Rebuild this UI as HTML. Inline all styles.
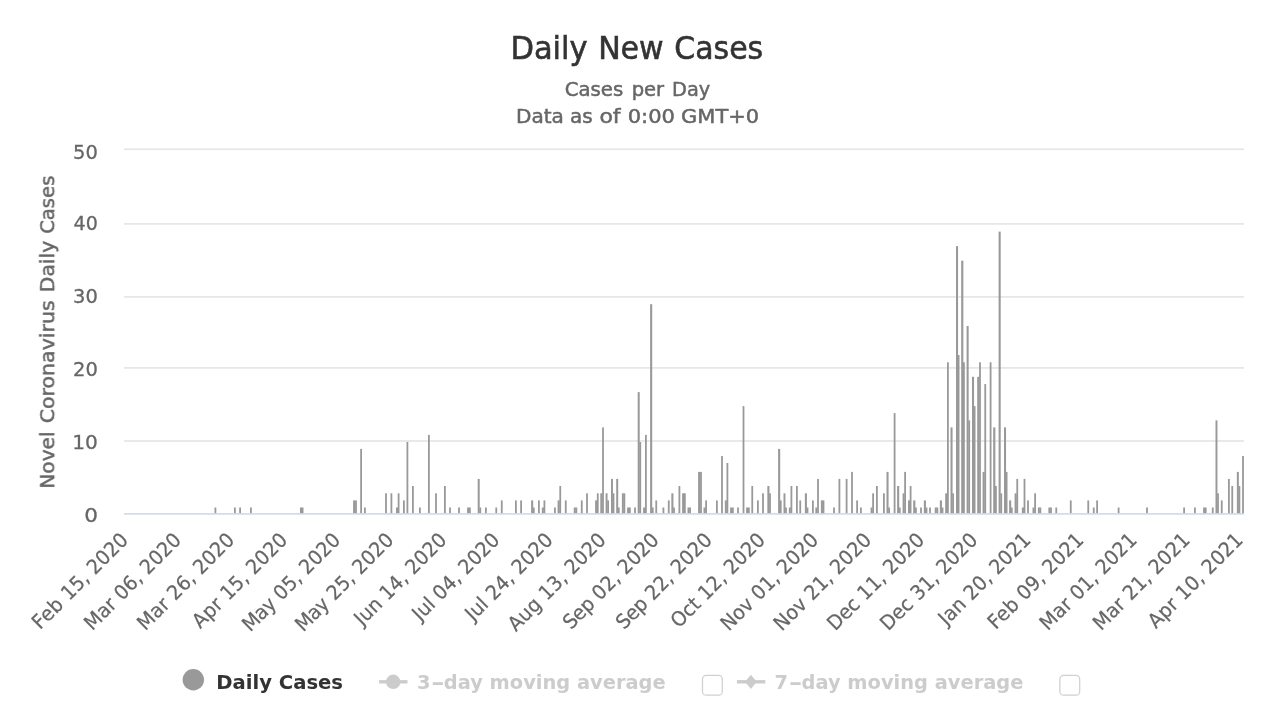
<!DOCTYPE html>
<html lang="en"><head><meta charset="utf-8"><title>Daily New Cases</title>
<style>html,body{margin:0;padding:0;background:#fff}svg{display:block}text{font-family:"DejaVu Sans","Liberation Sans",sans-serif}.tx{filter:grayscale(1)}</style></head><body>
<svg width="1280" height="720" viewBox="0 0 1280 720">
<rect width="1280" height="720" fill="#ffffff"/>
<g fill="#e6e6e6">
<rect x="124" y="148.40" width="1120" height="1.7"/>
<rect x="124" y="223.05" width="1120" height="1.7"/>
<rect x="124" y="296.05" width="1120" height="1.7"/>
<rect x="124" y="367.05" width="1120" height="1.7"/>
<rect x="124" y="440.15" width="1120" height="1.7"/>
</g>
<g fill="#999999">
<rect x="214.50" y="507.50" width="1.80" height="6.10"/>
<rect x="234.00" y="507.50" width="1.80" height="6.10"/>
<rect x="239.20" y="507.50" width="1.80" height="6.10"/>
<rect x="250.00" y="507.50" width="1.80" height="6.10"/>
<rect x="300.00" y="507.50" width="2.05" height="6.10"/>
<rect x="301.70" y="507.50" width="1.80" height="6.10"/>
<rect x="353.10" y="500.40" width="2.35" height="13.20"/>
<rect x="355.10" y="500.40" width="1.80" height="13.20"/>
<rect x="360.20" y="448.90" width="1.80" height="64.70"/>
<rect x="364.00" y="507.50" width="1.80" height="6.10"/>
<rect x="385.10" y="493.30" width="1.80" height="20.30"/>
<rect x="390.50" y="493.30" width="1.80" height="20.30"/>
<rect x="396.00" y="507.50" width="2.05" height="6.10"/>
<rect x="397.70" y="493.30" width="1.80" height="20.30"/>
<rect x="403.00" y="500.40" width="1.80" height="13.20"/>
<rect x="406.50" y="442.00" width="1.80" height="71.60"/>
<rect x="412.00" y="486.00" width="1.80" height="27.60"/>
<rect x="419.00" y="507.50" width="1.80" height="6.10"/>
<rect x="428.00" y="434.90" width="1.80" height="78.70"/>
<rect x="435.10" y="493.30" width="1.80" height="20.30"/>
<rect x="444.00" y="486.00" width="1.80" height="27.60"/>
<rect x="449.10" y="507.50" width="1.80" height="6.10"/>
<rect x="458.10" y="507.50" width="1.80" height="6.10"/>
<rect x="467.10" y="507.50" width="2.20" height="6.10"/>
<rect x="468.95" y="507.50" width="1.80" height="6.10"/>
<rect x="477.70" y="478.90" width="2.00" height="34.70"/>
<rect x="479.35" y="507.50" width="1.80" height="6.10"/>
<rect x="485.00" y="507.50" width="1.80" height="6.10"/>
<rect x="495.35" y="507.50" width="1.80" height="6.10"/>
<rect x="500.85" y="500.40" width="1.80" height="13.20"/>
<rect x="515.00" y="500.40" width="1.80" height="13.20"/>
<rect x="520.20" y="500.40" width="1.80" height="13.20"/>
<rect x="531.10" y="500.40" width="2.10" height="13.20"/>
<rect x="532.85" y="507.50" width="1.80" height="6.10"/>
<rect x="538.00" y="500.40" width="1.80" height="13.20"/>
<rect x="541.85" y="507.50" width="2.00" height="6.10"/>
<rect x="543.50" y="500.40" width="1.80" height="13.20"/>
<rect x="554.00" y="507.50" width="1.80" height="6.10"/>
<rect x="557.60" y="500.40" width="2.10" height="13.20"/>
<rect x="559.35" y="486.00" width="1.80" height="27.60"/>
<rect x="564.85" y="500.40" width="1.80" height="13.20"/>
<rect x="573.75" y="507.50" width="2.05" height="6.10"/>
<rect x="575.45" y="507.50" width="1.80" height="6.10"/>
<rect x="580.85" y="500.40" width="1.80" height="13.20"/>
<rect x="586.10" y="493.30" width="1.80" height="20.30"/>
<rect x="595.10" y="500.40" width="2.10" height="13.20"/>
<rect x="596.85" y="493.30" width="1.80" height="20.30"/>
<rect x="600.30" y="493.30" width="2.15" height="20.30"/>
<rect x="602.10" y="427.40" width="1.80" height="86.20"/>
<rect x="605.60" y="493.30" width="1.95" height="20.30"/>
<rect x="607.20" y="500.40" width="1.80" height="13.20"/>
<rect x="611.00" y="478.90" width="1.95" height="34.70"/>
<rect x="612.60" y="493.30" width="1.80" height="20.30"/>
<rect x="616.20" y="478.90" width="2.00" height="34.70"/>
<rect x="617.85" y="507.50" width="1.80" height="6.10"/>
<rect x="621.90" y="493.30" width="1.90" height="20.30"/>
<rect x="623.45" y="493.30" width="1.80" height="20.30"/>
<rect x="627.10" y="507.50" width="2.20" height="6.10"/>
<rect x="628.95" y="507.50" width="1.80" height="6.10"/>
<rect x="634.10" y="507.50" width="1.80" height="6.10"/>
<rect x="637.70" y="392.10" width="2.00" height="121.50"/>
<rect x="639.35" y="442.00" width="1.80" height="71.60"/>
<rect x="643.10" y="507.50" width="2.25" height="6.10"/>
<rect x="645.00" y="434.90" width="1.80" height="78.70"/>
<rect x="650.10" y="304.21" width="2.10" height="209.39"/>
<rect x="651.85" y="507.50" width="1.80" height="6.10"/>
<rect x="655.35" y="500.40" width="1.80" height="13.20"/>
<rect x="662.50" y="507.50" width="1.80" height="6.10"/>
<rect x="667.85" y="500.40" width="1.80" height="13.20"/>
<rect x="671.35" y="493.30" width="2.10" height="20.30"/>
<rect x="673.10" y="507.50" width="1.80" height="6.10"/>
<rect x="678.50" y="486.00" width="1.80" height="27.60"/>
<rect x="682.10" y="493.30" width="2.20" height="20.30"/>
<rect x="683.95" y="493.30" width="1.80" height="20.30"/>
<rect x="687.50" y="507.50" width="2.05" height="6.10"/>
<rect x="689.20" y="507.50" width="1.80" height="6.10"/>
<rect x="698.10" y="471.90" width="2.35" height="41.70"/>
<rect x="700.10" y="471.90" width="1.80" height="41.70"/>
<rect x="703.50" y="507.50" width="2.05" height="6.10"/>
<rect x="705.20" y="500.40" width="1.80" height="13.20"/>
<rect x="716.00" y="500.40" width="1.80" height="13.20"/>
<rect x="721.10" y="456.00" width="1.80" height="57.60"/>
<rect x="724.85" y="500.40" width="2.00" height="13.20"/>
<rect x="726.50" y="463.00" width="1.80" height="50.60"/>
<rect x="730.10" y="507.50" width="2.20" height="6.10"/>
<rect x="731.95" y="507.50" width="1.80" height="6.10"/>
<rect x="737.10" y="507.50" width="1.80" height="6.10"/>
<rect x="742.60" y="406.10" width="1.80" height="107.50"/>
<rect x="746.10" y="507.50" width="2.20" height="6.10"/>
<rect x="747.95" y="507.50" width="1.80" height="6.10"/>
<rect x="751.35" y="486.00" width="1.80" height="27.60"/>
<rect x="757.00" y="500.40" width="1.80" height="13.20"/>
<rect x="762.10" y="493.30" width="1.80" height="20.30"/>
<rect x="767.35" y="486.00" width="2.10" height="27.60"/>
<rect x="769.10" y="493.30" width="1.80" height="20.30"/>
<rect x="778.10" y="448.90" width="2.10" height="64.70"/>
<rect x="779.85" y="500.40" width="1.80" height="13.20"/>
<rect x="783.50" y="493.30" width="1.95" height="20.30"/>
<rect x="785.10" y="507.50" width="1.80" height="6.10"/>
<rect x="788.85" y="507.50" width="2.00" height="6.10"/>
<rect x="790.50" y="486.00" width="1.80" height="27.60"/>
<rect x="796.00" y="486.00" width="1.80" height="27.60"/>
<rect x="799.35" y="500.40" width="1.80" height="13.20"/>
<rect x="804.85" y="493.30" width="2.10" height="20.30"/>
<rect x="806.60" y="507.50" width="1.80" height="6.10"/>
<rect x="812.00" y="500.40" width="1.80" height="13.20"/>
<rect x="815.35" y="507.50" width="2.10" height="6.10"/>
<rect x="817.10" y="478.90" width="1.80" height="34.70"/>
<rect x="820.90" y="500.40" width="2.05" height="13.20"/>
<rect x="822.60" y="500.40" width="1.80" height="13.20"/>
<rect x="833.10" y="507.50" width="1.80" height="6.10"/>
<rect x="838.50" y="478.90" width="1.80" height="34.70"/>
<rect x="845.70" y="478.90" width="1.80" height="34.70"/>
<rect x="851.10" y="471.90" width="1.80" height="41.70"/>
<rect x="856.20" y="500.40" width="1.80" height="13.20"/>
<rect x="860.00" y="507.50" width="1.80" height="6.10"/>
<rect x="870.60" y="507.50" width="1.95" height="6.10"/>
<rect x="872.20" y="493.30" width="1.80" height="20.30"/>
<rect x="876.00" y="486.00" width="1.80" height="27.60"/>
<rect x="883.00" y="493.30" width="1.80" height="20.30"/>
<rect x="886.50" y="471.90" width="2.05" height="41.70"/>
<rect x="888.20" y="507.50" width="1.80" height="6.10"/>
<rect x="893.70" y="413.10" width="1.80" height="100.50"/>
<rect x="897.10" y="486.00" width="2.10" height="27.60"/>
<rect x="898.85" y="507.50" width="1.80" height="6.10"/>
<rect x="902.60" y="493.30" width="1.95" height="20.30"/>
<rect x="904.20" y="471.90" width="1.80" height="41.70"/>
<rect x="908.00" y="500.40" width="2.05" height="13.20"/>
<rect x="909.70" y="486.00" width="1.80" height="27.60"/>
<rect x="913.20" y="500.40" width="2.15" height="13.20"/>
<rect x="915.00" y="507.50" width="1.80" height="6.10"/>
<rect x="920.10" y="507.50" width="1.80" height="6.10"/>
<rect x="923.85" y="500.40" width="2.10" height="13.20"/>
<rect x="925.60" y="507.50" width="1.80" height="6.10"/>
<rect x="929.10" y="507.50" width="1.80" height="6.10"/>
<rect x="934.75" y="507.50" width="2.05" height="6.10"/>
<rect x="936.45" y="507.50" width="1.80" height="6.10"/>
<rect x="939.85" y="500.40" width="2.10" height="13.20"/>
<rect x="941.60" y="507.50" width="1.80" height="6.10"/>
<rect x="945.20" y="493.30" width="2.15" height="20.30"/>
<rect x="947.00" y="362.29" width="1.80" height="151.31"/>
<rect x="950.50" y="427.40" width="2.05" height="86.20"/>
<rect x="952.20" y="493.30" width="1.80" height="20.30"/>
<rect x="956.00" y="246.13" width="2.05" height="267.47"/>
<rect x="957.70" y="355.03" width="1.80" height="158.57"/>
<rect x="961.20" y="260.65" width="2.15" height="252.95"/>
<rect x="963.00" y="362.29" width="1.80" height="151.31"/>
<rect x="966.60" y="325.99" width="2.05" height="187.61"/>
<rect x="968.30" y="420.37" width="1.80" height="93.23"/>
<rect x="972.00" y="376.81" width="2.05" height="136.79"/>
<rect x="973.70" y="406.10" width="1.80" height="107.50"/>
<rect x="977.20" y="376.81" width="2.25" height="136.79"/>
<rect x="979.10" y="362.29" width="1.80" height="151.31"/>
<rect x="982.60" y="471.90" width="2.10" height="41.70"/>
<rect x="984.35" y="384.07" width="1.80" height="129.53"/>
<rect x="989.70" y="362.29" width="1.80" height="151.31"/>
<rect x="993.20" y="427.40" width="2.15" height="86.20"/>
<rect x="995.00" y="486.00" width="1.80" height="27.60"/>
<rect x="998.60" y="231.61" width="2.10" height="281.99"/>
<rect x="1000.35" y="493.30" width="1.80" height="20.30"/>
<rect x="1004.00" y="427.40" width="2.05" height="86.20"/>
<rect x="1005.70" y="471.90" width="1.80" height="41.70"/>
<rect x="1009.10" y="500.40" width="2.10" height="13.20"/>
<rect x="1010.85" y="507.50" width="1.80" height="6.10"/>
<rect x="1014.60" y="493.30" width="2.10" height="20.30"/>
<rect x="1016.35" y="478.90" width="1.80" height="34.70"/>
<rect x="1021.85" y="507.50" width="2.10" height="6.10"/>
<rect x="1023.60" y="478.90" width="1.80" height="34.70"/>
<rect x="1027.10" y="500.40" width="1.80" height="13.20"/>
<rect x="1032.50" y="507.50" width="2.05" height="6.10"/>
<rect x="1034.20" y="493.30" width="1.80" height="20.30"/>
<rect x="1037.90" y="507.50" width="1.90" height="6.10"/>
<rect x="1039.45" y="507.50" width="1.80" height="6.10"/>
<rect x="1048.40" y="507.50" width="2.05" height="6.10"/>
<rect x="1050.10" y="507.50" width="1.80" height="6.10"/>
<rect x="1055.35" y="507.50" width="1.80" height="6.10"/>
<rect x="1069.85" y="500.40" width="1.80" height="13.20"/>
<rect x="1087.35" y="500.40" width="1.80" height="13.20"/>
<rect x="1092.85" y="507.50" width="1.80" height="6.10"/>
<rect x="1096.20" y="500.40" width="1.80" height="13.20"/>
<rect x="1117.70" y="507.50" width="1.80" height="6.10"/>
<rect x="1146.10" y="507.50" width="1.80" height="6.10"/>
<rect x="1183.20" y="507.50" width="1.80" height="6.10"/>
<rect x="1194.00" y="507.50" width="1.80" height="6.10"/>
<rect x="1203.10" y="507.50" width="2.05" height="6.10"/>
<rect x="1204.80" y="507.50" width="1.80" height="6.10"/>
<rect x="1211.85" y="507.50" width="1.80" height="6.10"/>
<rect x="1215.50" y="420.37" width="1.95" height="93.23"/>
<rect x="1217.10" y="493.30" width="1.80" height="20.30"/>
<rect x="1220.85" y="500.40" width="1.80" height="13.20"/>
<rect x="1228.00" y="478.90" width="1.80" height="34.70"/>
<rect x="1231.35" y="486.00" width="1.80" height="27.60"/>
<rect x="1236.85" y="471.90" width="2.00" height="41.70"/>
<rect x="1238.50" y="486.00" width="1.80" height="27.60"/>
<rect x="1242.10" y="456.00" width="1.80" height="57.60"/>
</g>
<rect x="124" y="513.15" width="1120" height="1.5" fill="#ccd6eb"/>
<g class="tx">
<text y="59.45" font-size="32.2" font-weight="normal" fill="#333333" stroke="#333333" stroke-width="0.6"><tspan x="510.39" textLength="77.26" lengthAdjust="spacingAndGlyphs">Daily</tspan> <tspan x="598.13" textLength="65.59" lengthAdjust="spacingAndGlyphs">New</tspan> <tspan x="674.30" textLength="88.93" lengthAdjust="spacingAndGlyphs">Cases</tspan></text>
<text y="96.40" font-size="20" font-weight="normal" fill="#666666" stroke="#666666" stroke-width="0.5"><tspan x="564.66" textLength="58.55" lengthAdjust="spacingAndGlyphs">Cases</tspan> <tspan x="631.63" textLength="32.50" lengthAdjust="spacingAndGlyphs">per</tspan> <tspan x="672.06" textLength="38.18" lengthAdjust="spacingAndGlyphs">Day</tspan></text>
<text y="123.00" font-size="20" font-weight="normal" fill="#666666" stroke="#666666" stroke-width="0.5"><tspan x="515.99" textLength="47.91" lengthAdjust="spacingAndGlyphs">Data</tspan> <tspan x="569.90" textLength="22.68" lengthAdjust="spacingAndGlyphs">as</tspan> <tspan x="599.43" textLength="21.18" lengthAdjust="spacingAndGlyphs">of</tspan> <tspan x="627.70" textLength="47.28" lengthAdjust="spacingAndGlyphs">0:00</tspan> <tspan x="681.11" textLength="77.98" lengthAdjust="spacingAndGlyphs">GMT+0</tspan></text>
<text transform="translate(54.2,0) rotate(-90)" y="0.00" font-size="20" font-weight="normal" fill="#666666" stroke="#666666" stroke-width="0.5"><tspan x="-488.76" textLength="57.32" lengthAdjust="spacingAndGlyphs">Novel</tspan> <tspan x="-423.27" textLength="122.90" lengthAdjust="spacingAndGlyphs">Coronavirus</tspan> <tspan x="-292.17" textLength="51.28" lengthAdjust="spacingAndGlyphs">Daily</tspan> <tspan x="-233.84" textLength="58.19" lengthAdjust="spacingAndGlyphs">Cases</tspan></text>
<text transform="translate(216.21,688.80) scale(0.9665,1)" font-size="20.3" font-weight="bold" fill="#333333">Daily Cases</text>
<text transform="translate(416.90,688.80) scale(0.9567,1)" font-size="20.3" font-weight="bold" fill="#cccccc">3<tspan dx="0.7" textLength="14.3" lengthAdjust="spacingAndGlyphs">-</tspan><tspan dx="-1">day moving average</tspan></text>
<text transform="translate(774.60,688.80) scale(0.9571,1)" font-size="20.3" font-weight="bold" fill="#cccccc">7<tspan dx="0.7" textLength="14.3" lengthAdjust="spacingAndGlyphs">-</tspan><tspan dx="-1">day moving average</tspan></text>
<text transform="translate(73.01,159.10) scale(0.9933,1)" font-size="19.6" fill="#666666" stroke="#666666" stroke-width="0.3">50</text>
<text transform="translate(73.52,230.00) scale(0.9717,1)" font-size="19.6" fill="#666666" stroke="#666666" stroke-width="0.3">40</text>
<text transform="translate(73.01,303.10) scale(0.9933,1)" font-size="19.6" fill="#666666" stroke="#666666" stroke-width="0.3">30</text>
<text transform="translate(73.01,375.80) scale(0.9933,1)" font-size="19.6" fill="#666666" stroke="#666666" stroke-width="0.3">20</text>
<text transform="translate(72.19,448.80) scale(1.0276,1)" font-size="19.6" fill="#666666" stroke="#666666" stroke-width="0.3">10</text>
<text transform="translate(84.22,521.70) scale(1.1000,1)" font-size="19.6" fill="#666666" stroke="#666666" stroke-width="0.3">0</text>
<text transform="translate(128.70,541.70) rotate(-45) scale(0.955,1)" x="0.90" text-anchor="end" font-size="20" fill="#666666" stroke="#666666" stroke-width="0.25"><tspan letter-spacing="0.45">Feb</tspan> 15, 2020</text>
<text transform="translate(181.79,541.70) rotate(-45) scale(0.955,1)" x="0.90" text-anchor="end" font-size="20" fill="#666666" stroke="#666666" stroke-width="0.25"><tspan letter-spacing="0.15">Mar</tspan> 06, 2020</text>
<text transform="translate(234.88,541.70) rotate(-45) scale(0.955,1)" x="0.90" text-anchor="end" font-size="20" fill="#666666" stroke="#666666" stroke-width="0.25"><tspan letter-spacing="0.15">Mar</tspan> 26, 2020</text>
<text transform="translate(287.97,541.70) rotate(-45) scale(0.955,1)" x="0.90" text-anchor="end" font-size="20" fill="#666666" stroke="#666666" stroke-width="0.25"><tspan letter-spacing="0.25">Apr</tspan> 15, 2020</text>
<text transform="translate(341.06,541.70) rotate(-45) scale(0.955,1)" x="0.90" text-anchor="end" font-size="20" fill="#666666" stroke="#666666" stroke-width="0.25"><tspan letter-spacing="-0.4">May</tspan> 05, 2020</text>
<text transform="translate(394.15,541.70) rotate(-45) scale(0.955,1)" x="0.90" text-anchor="end" font-size="20" fill="#666666" stroke="#666666" stroke-width="0.25"><tspan letter-spacing="-0.4">May</tspan> 25, 2020</text>
<text transform="translate(447.24,541.70) rotate(-45) scale(0.955,1)" x="0.90" text-anchor="end" font-size="20" fill="#666666" stroke="#666666" stroke-width="0.25"><tspan letter-spacing="0.0">Jun</tspan> 14, 2020</text>
<text transform="translate(500.33,541.70) rotate(-45) scale(0.955,1)" x="0.90" text-anchor="end" font-size="20" fill="#666666" stroke="#666666" stroke-width="0.25"><tspan letter-spacing="0.0">Jul</tspan> 04, 2020</text>
<text transform="translate(553.42,541.70) rotate(-45) scale(0.955,1)" x="0.90" text-anchor="end" font-size="20" fill="#666666" stroke="#666666" stroke-width="0.25"><tspan letter-spacing="0.0">Jul</tspan> 24, 2020</text>
<text transform="translate(606.51,541.70) rotate(-45) scale(0.955,1)" x="0.90" text-anchor="end" font-size="20" fill="#666666" stroke="#666666" stroke-width="0.25"><tspan letter-spacing="0.2">Aug</tspan> 13, 2020</text>
<text transform="translate(659.60,541.70) rotate(-45) scale(0.955,1)" x="0.90" text-anchor="end" font-size="20" fill="#666666" stroke="#666666" stroke-width="0.25"><tspan letter-spacing="-0.3">Sep</tspan> 02, 2020</text>
<text transform="translate(712.69,541.70) rotate(-45) scale(0.955,1)" x="0.90" text-anchor="end" font-size="20" fill="#666666" stroke="#666666" stroke-width="0.25"><tspan letter-spacing="-0.3">Sep</tspan> 22, 2020</text>
<text transform="translate(765.78,541.70) rotate(-45) scale(0.955,1)" x="0.90" text-anchor="end" font-size="20" fill="#666666" stroke="#666666" stroke-width="0.25"><tspan letter-spacing="0.0">Oct</tspan> 12, 2020</text>
<text transform="translate(818.87,541.70) rotate(-45) scale(0.955,1)" x="0.90" text-anchor="end" font-size="20" fill="#666666" stroke="#666666" stroke-width="0.25"><tspan letter-spacing="0.0">Nov</tspan> 01, 2020</text>
<text transform="translate(871.96,541.70) rotate(-45) scale(0.955,1)" x="0.90" text-anchor="end" font-size="20" fill="#666666" stroke="#666666" stroke-width="0.25"><tspan letter-spacing="0.0">Nov</tspan> 21, 2020</text>
<text transform="translate(925.05,541.70) rotate(-45) scale(0.955,1)" x="0.90" text-anchor="end" font-size="20" fill="#666666" stroke="#666666" stroke-width="0.25"><tspan letter-spacing="0.0">Dec</tspan> 11, 2020</text>
<text transform="translate(978.14,541.70) rotate(-45) scale(0.955,1)" x="0.90" text-anchor="end" font-size="20" fill="#666666" stroke="#666666" stroke-width="0.25"><tspan letter-spacing="0.0">Dec</tspan> 31, 2020</text>
<text transform="translate(1031.23,541.70) rotate(-45) scale(0.955,1)" x="0.90" text-anchor="end" font-size="20" fill="#666666" stroke="#666666" stroke-width="0.25"><tspan letter-spacing="0.0">Jan</tspan> 20, 2021</text>
<text transform="translate(1084.32,541.70) rotate(-45) scale(0.955,1)" x="0.90" text-anchor="end" font-size="20" fill="#666666" stroke="#666666" stroke-width="0.25"><tspan letter-spacing="0.45">Feb</tspan> 09, 2021</text>
<text transform="translate(1137.41,541.70) rotate(-45) scale(0.955,1)" x="0.90" text-anchor="end" font-size="20" fill="#666666" stroke="#666666" stroke-width="0.25"><tspan letter-spacing="0.15">Mar</tspan> 01, 2021</text>
<text transform="translate(1190.50,541.70) rotate(-45) scale(0.955,1)" x="0.90" text-anchor="end" font-size="20" fill="#666666" stroke="#666666" stroke-width="0.25"><tspan letter-spacing="0.15">Mar</tspan> 21, 2021</text>
<text transform="translate(1243.59,541.70) rotate(-45) scale(0.955,1)" x="0.90" text-anchor="end" font-size="20" fill="#666666" stroke="#666666" stroke-width="0.25"><tspan letter-spacing="0.25">Apr</tspan> 10, 2021</text>
</g>
<circle cx="193.3" cy="679.8" r="10.7" fill="#999999"/>
<g fill="#cccccc"><rect x="379.1" y="680.1" width="28.4" height="3.4"/><circle cx="393.2" cy="681.8" r="7.2"/><rect x="736.9" y="680.1" width="28.4" height="3.4"/><path d="M750.9 674.7 L756.7 681.8 L750.9 688.9 L745.1 681.8 Z"/></g>
<rect x="702.5" y="675.4" width="19.8" height="19.8" rx="3.8" ry="3.8" fill="#ffffff" stroke="#d0d0d0" stroke-width="1.25"/>
<rect x="1059.9" y="675.4" width="19.8" height="19.8" rx="3.8" ry="3.8" fill="#ffffff" stroke="#d0d0d0" stroke-width="1.25"/>
</svg>
</body></html>
